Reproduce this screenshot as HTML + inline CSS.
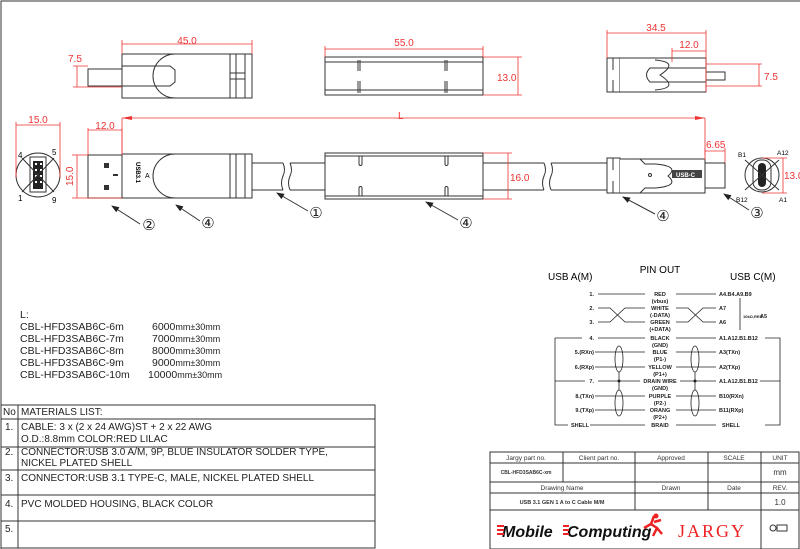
<!DOCTYPE html>
<html><head><meta charset="utf-8"><style>
body{margin:0;background:#fff}
svg{display:block;font-family:"Liberation Sans",Arial,sans-serif}
.k{stroke:#333;stroke-width:1;fill:none}
.kf{stroke:#333;stroke-width:1;fill:#fff}
.r{stroke:#e33;stroke-width:0.8;fill:none}
.rt{fill:#e33;font-size:10px}
.p{font-size:5.5px;font-weight:bold;fill:#222}
</style></head><body>
<svg width="800" height="549" viewBox="0 0 800 549">
<defs><marker id="ah" markerWidth="8" markerHeight="6" refX="7" refY="3" orient="auto"><path d="M0,0 L8,3 L0,6 z" fill="#222"/></marker></defs>
<path d="M1,549 V1 H800" class="k" stroke-width="1.5"/>

<!-- TOP LEFT PLUG -->
<rect x="88" y="69" width="34" height="17" class="k"/>
<path d="M122,54 H252 V98 H122 Z" class="kf"/>
<path d="M175,54 A22,22 0 0 0 175,98" class="k"/>
<path d="M122,66 H170 L175,70 V82 L170,86 H122" class="k"/>
<path d="M230,54 V98 M236,54 V98 M245,54 V98 M230,73 H245 M230,79 H245" class="k"/>
<path class="r" d="M122,40 V54 M252,40 V54 M122,44 H252 M73,66 H88 M73,87 H122 M77,66 V87"/>
<text x="187" y="44" class="rt" text-anchor="middle">45.0</text>
<text x="68" y="62" class="rt">7.5</text>

<!-- TOP MIDDLE -->
<rect x="325" y="57" width="158" height="38" class="kf"/>
<path d="M325,62 H483 M325,90 H483" class="k"/>
<path d="M358,60 V71 M360,60 V71 M358,81 V93 M360,81 V93 M445,60 V71 M447,60 V71 M445,81 V93 M447,81 V93" class="k"/>
<path class="r" d="M325,46 V57 M483,46 V57 M325,49 H483 M483,57 H522 M483,95 H522 M518,57 V95"/>
<text x="404" y="46" class="rt" text-anchor="middle">55.0</text>
<text x="497" y="81" class="rt">13.0</text>

<!-- TOP RIGHT -->
<rect x="607" y="58" width="13" height="34" class="kf"/>
<path d="M620,58 H706 V92 H620" class="kf"/>
<path d="M655,60 Q680,62 660,75 Q680,88 655,90" class="k"/>
<path d="M706,68 H650 Q643,75 650,82 H706" class="k"/>
<path d="M613,58 V70 M613,80 V92" class="k"/>
<rect x="706" y="72" width="19" height="8" class="k"/>
<path class="r" d="M607,30 V58 M706,30 V92 M607,33 H706 M672,48 V62 M672,51 H706 M706,64 H762 M706,86 H762 M759,64 V86"/>
<text x="656" y="31" class="rt" text-anchor="middle">34.5</text>
<text x="689" y="48" class="rt" text-anchor="middle">12.0</text>
<text x="764" y="80" class="rt" font-size="11">7.5</text>

<!-- L dim -->
<path class="r" d="M122,118 H705 M122,118 V155 M705,118 V155"/>
<path d="M122,118 l10,-2 v4 z M705,118 l-10,-2 v4 z" fill="#e33"/>
<text x="398" y="119" class="rt">L</text>

<!-- USB A face -->
<circle cx="38" cy="175" r="22" class="k"/>
<rect x="30" y="157" width="16" height="35" class="kf" stroke-width="1.5"/>
<rect x="33" y="161" width="10" height="28" fill="#222"/>
<path d="M35,164h2M40,164h2M35,170h2M40,170h2M35,176h2M40,176h2M35,182h2M40,182h2" stroke="#fff" stroke-width="2"/>
<path d="M22,158 L54,192 M54,158 L22,192" class="k" stroke-width="0.7"/>
<text x="18" y="158" font-size="8">4</text><text x="52" y="155" font-size="8">5</text>
<text x="18" y="201" font-size="8">1</text><text x="52" y="203" font-size="8">9</text>
<path class="r" d="M16,122 V178 M60,122 V178 M16,125 H60"/>
<text x="38" y="123" class="rt" text-anchor="middle">15.0</text>

<!-- USB A plug -->
<rect x="88" y="155" width="34" height="43" class="kf"/>
<rect x="104" y="163" width="5" height="5" fill="#333"/><rect x="104" y="185" width="5" height="5" fill="#333"/>
<rect x="113" y="174" width="5" height="2" fill="#333"/>
<rect x="122" y="154" width="130" height="44" class="kf"/>
<path d="M175,154 A22,22 0 0 0 175,198" class="k"/>
<path d="M230,154 V198 M236,154 V198 M245,154 V198" class="k"/>
<text x="0" y="0" font-size="6" font-weight="bold" transform="translate(136,162) rotate(90)">USB3.1</text>
<text x="145" y="178" font-size="7">A</text>
<path class="r" d="M88,128 V155 M122,128 V155 M88,130 H122 M72,155 H88 M72,198 H122 M77,155 V198"/>
<text x="105" y="129" class="rt" text-anchor="middle">12.0</text>
<text x="0" y="0" class="rt" transform="translate(73,186) rotate(-90)">15.0</text>

<!-- cables -->
<path d="M252,163 H283 M252,190 H283 M290,163 H325 M290,190 H325" class="k"/>
<path d="M283,163 q3,7 0,13 q-3,7 0,14 M290,163 q3,7 0,13 q-3,7 0,14" class="k"/>
<path d="M483,163 H544 M483,190 H544 M551,163 H607 M551,190 H607" class="k"/>
<path d="M544,163 q3,7 0,13 q-3,7 0,14 M551,163 q3,7 0,13 q-3,7 0,14" class="k"/>

<!-- middle overmold -->
<rect x="325" y="153" width="158" height="46" class="kf"/>
<path d="M325,156 H483 M325,196 H483" class="k"/>
<path d="M359,156 v8 a1.5,1.5 0 0 0 3,0 v-8 M445,156 v8 a1.5,1.5 0 0 0 3,0 v-8 M359,196 v-8 a1.5,1.5 0 0 1 3,0 v8 M445,196 v-8 a1.5,1.5 0 0 1 3,0 v8" class="k"/>
<path class="r" d="M483,153 H512 M483,199 H512 M508,153 V199"/>
<text x="510" y="181" class="rt" font-size="10">16.0</text>

<!-- USB C plug -->
<rect x="607" y="158" width="13" height="35" class="kf"/>
<path d="M613,158 V170 M613,181 V193" class="k"/>
<path d="M620,159 H705 V193 H620" class="kf"/>
<path d="M640,159 L645,164 H655 Q680,166 668,176 Q680,186 655,188 H645 L640,193" class="k"/>
<circle cx="650" cy="175" r="1.5" class="k"/>
<rect x="672" y="170" width="30" height="8" fill="#444"/>
<text x="676" y="177" font-size="6" fill="#fff" font-weight="bold">USB-C</text>
<rect x="705" y="163" width="20" height="25" class="k"/>
<path class="r" d="M705,148 V160 M725,148 V163 M705,151 H725"/>
<text x="706" y="148" class="rt" font-size="8">6.65</text>

<!-- USB C face -->
<circle cx="762" cy="175" r="17" class="k"/>
<rect x="753" y="160" width="18" height="30" rx="8" class="kf"/>
<rect x="758" y="163" width="8" height="24" rx="4" fill="#222"/>
<path d="M745,160 L779,190 M779,160 L745,190" class="k" stroke-width="0.7"/>
<path class="r" d="M762,158 H787 M762,193 H787 M783,158 V193"/>
<text x="784" y="179" class="rt" font-size="8">13.0</text>
<text x="738" y="157" font-size="6.5">B1</text><text x="777" y="155" font-size="6.5">A12</text>
<text x="736" y="202" font-size="6.5">B12</text><text x="779" y="202" font-size="6.5">A1</text>

<!-- callouts -->
<g class="k" stroke-width="0.8">
<path d="M140,224 L112,206" marker-end="url(#ah)"/>
<path d="M200,221 L176,205" marker-end="url(#ah)"/>
<path d="M308,211 L277,193" marker-end="url(#ah)"/>
<path d="M458,220 L426,202" marker-end="url(#ah)"/>
<path d="M655,214 L623,197" marker-end="url(#ah)"/>
<path d="M749,210 L724,194" marker-end="url(#ah)"/>
</g>
<g font-size="15" text-anchor="middle" fill="#222"><text x="149" y="230">②</text><text x="208" y="228">④</text><text x="316" y="218">①</text><text x="466" y="228">④</text><text x="663" y="221">④</text><text x="757" y="218">③</text></g>

<!-- L list -->
<g font-size="10.5" fill="#222">
<text x="20" y="318">L:</text>
<text x="20" y="330">CBL-HFD3SAB6C-6m</text><text x="152" y="330">6000<tspan font-size="9">mm±30mm</tspan></text>
<text x="20" y="342">CBL-HFD3SAB6C-7m</text><text x="152" y="342">7000<tspan font-size="9">mm±30mm</tspan></text>
<text x="20" y="354">CBL-HFD3SAB6C-8m</text><text x="152" y="354">8000<tspan font-size="9">mm±30mm</tspan></text>
<text x="20" y="366">CBL-HFD3SAB6C-9m</text><text x="152" y="366">9000<tspan font-size="9">mm±30mm</tspan></text>
<text x="20" y="378">CBL-HFD3SAB6C-10m</text><text x="148" y="378">10000<tspan font-size="9">mm±30mm</tspan></text>
</g>

<!-- materials table -->
<g class="k">
<rect x="1" y="405" width="374" height="143"/>
<path d="M18,405 V548 M1,419 H375 M1,447 H375 M1,470 H375 M1,495 H375 M1,521 H375"/>
</g>
<g font-size="10" fill="#222">
<text x="3" y="415">No</text><text x="21" y="415">MATERIALS LIST:</text>
<text x="5" y="430">1.</text><text x="21" y="430">CABLE: 3 x (2 x 24 AWG)ST + 2 x 22 AWG</text><text x="21" y="442">O.D.:8.8mm COLOR:RED LILAC</text>
<text x="5" y="455">2.</text><text x="21" y="455">CONNECTOR:USB 3.0 A/M, 9P, BLUE INSULATOR SOLDER TYPE,</text><text x="21" y="466">NICKEL PLATED SHELL</text>
<text x="5" y="481">3.</text><text x="21" y="481">CONNECTOR:USB 3.1 TYPE-C, MALE, NICKEL PLATED SHELL</text>
<text x="5" y="507">4.</text><text x="21" y="507">PVC MOLDED HOUSING, BLACK COLOR</text>
<text x="5" y="532">5.</text>
</g>

<!-- PIN OUT -->
<text x="660" y="273" font-size="10" text-anchor="middle">PIN OUT</text>
<text x="548" y="280" font-size="10">USB A(M)</text>
<text x="730" y="280" font-size="10">USB C(M)</text>
<g stroke="#222" stroke-width="0.8" fill="none">
<path d="M598,294 H645 M676,294 H716"/>
<path d="M598,308 H610 L625,322 H645 M598,322 H610 L625,308 H645"/>
<path d="M676,308 H688 L703,322 H716 M676,322 H688 L703,308 H716"/>
<path d="M555,338 H582 M598,338 H645 M676,338 H716 M765,338 H780 V425 H765 M555,338 V425 H568"/>
<path d="M595,352 H645 M676,352 H716 M595,367 H645 M676,367 H716 M555,381 H585 M598,381 H640 M680,381 H716 M760,381 H780"/>
<path d="M595,396 H645 M676,396 H716 M595,410 H645 M676,410 H716 M590,425 H645 M676,425 H716"/>
<ellipse cx="619" cy="359" rx="4" ry="13"/><ellipse cx="619" cy="403" rx="4" ry="13"/>
<ellipse cx="695" cy="359" rx="4" ry="13"/><ellipse cx="695" cy="403" rx="4" ry="13"/>
<path d="M619,372 V390 M695,372 V390 M740,298 V330"/>
</g>
<circle cx="619" cy="381" r="1.5" fill="#222"/><circle cx="695" cy="381" r="1.5" fill="#222"/>
<g class="p">
<text x="594" y="296" text-anchor="end">1.</text><text x="594" y="310" text-anchor="end">2.</text><text x="594" y="324" text-anchor="end">3.</text>
<text x="594" y="340" text-anchor="end">4.</text><text x="594" y="354" text-anchor="end">5.(RXn)</text><text x="594" y="369" text-anchor="end">6.(RXp)</text>
<text x="594" y="383" text-anchor="end">7.</text><text x="594" y="398" text-anchor="end">8.(TXn)</text><text x="594" y="412" text-anchor="end">9.(TXp)</text>
<text x="589" y="427" text-anchor="end">SHELL</text>
<g text-anchor="middle">
<text x="660" y="296">RED</text><text x="660" y="303">(vbus)</text>
<text x="660" y="310">WHITE</text><text x="660" y="317">(-DATA)</text>
<text x="660" y="324">GREEN</text><text x="660" y="331">(+DATA)</text>
<text x="660" y="340">BLACK</text><text x="660" y="347">(GND)</text>
<text x="660" y="354">BLUE</text><text x="660" y="361">(P1-)</text>
<text x="660" y="369">YELLOW</text><text x="660" y="376">(P1+)</text>
<text x="660" y="383">DRAIN WIRE</text><text x="660" y="390">(GND)</text>
<text x="660" y="398">PURPLE</text><text x="660" y="405">(P2-)</text>
<text x="660" y="412">ORANG</text><text x="660" y="419">(P2+)</text>
<text x="660" y="427">BRAID</text>
</g>
<text x="719" y="296">A4.B4.A9.B9</text><text x="719" y="310">A7</text><text x="719" y="324">A6</text>
<text x="743" y="318" font-size="4">10kΩ,RES</text><text x="760" y="318">A5</text>
<text x="719" y="340">A1.A12.B1.B12</text><text x="719" y="354">A3(TXn)</text><text x="719" y="369">A2(TXp)</text>
<text x="719" y="383">A1.A12.B1.B12</text><text x="719" y="398">B10(RXn)</text><text x="719" y="412">B11(RXp)</text>
<text x="722" y="427">SHELL</text>
</g>

<!-- title block -->
<g class="k">
<rect x="490" y="452" width="309" height="97"/>
<path d="M490,463 H799 M490,482 H799 M490,493 H799 M490,510 H799"/>
<path d="M563,452 V482 M635,452 V510 M708,452 V510 M761,452 V549"/>
</g>
<g font-size="6.5" fill="#333" text-anchor="middle">
<text x="526" y="460">Jargy part no.</text><text x="599" y="460">Client part no.</text><text x="671" y="460">Approved</text><text x="734" y="460">SCALE</text><text x="780" y="460">UNIT</text>
<text x="526" y="474" font-size="5" font-weight="bold">CBL-HFD3SAB6C-xm</text><text x="780" y="475" font-size="8">mm</text>
<text x="562" y="490">Drawing Name</text><text x="671" y="490">Drawn</text><text x="734" y="490">Date</text><text x="780" y="490">REV.</text>
<text x="562" y="504" font-size="5.5" font-weight="bold">USB 3.1 GEN 1 A to C Cable M/M</text><text x="780" y="505" font-size="8">1.0</text>
</g>
<text x="502" y="537" font-size="16" font-weight="bold" font-style="italic" fill="#111">Mobile</text>
<text x="567" y="537" font-size="16" font-weight="bold" font-style="italic" fill="#111">Computing</text>
<path d="M497,526h7M497,530h7M497,534h7M563,526h6M563,530h6M563,534h6" stroke="#e22" stroke-width="2"/>
<path d="M654,516 l-3,8 l6,4 l-4,8 M651,524 l-7,4 M654,522 l7,-2 M657,528 l5,6" stroke="#e22" stroke-width="2.5" fill="none"/>
<circle cx="656" cy="516" r="2.5" fill="#e22"/>
<text x="678" y="537" font-size="18" fill="#e22" letter-spacing="2" font-family="Liberation Serif, serif">JARGY</text>
<circle cx="773" cy="528" r="3" class="k"/><rect x="777" y="525" width="10" height="6" class="k"/>
</svg>
</body></html>
